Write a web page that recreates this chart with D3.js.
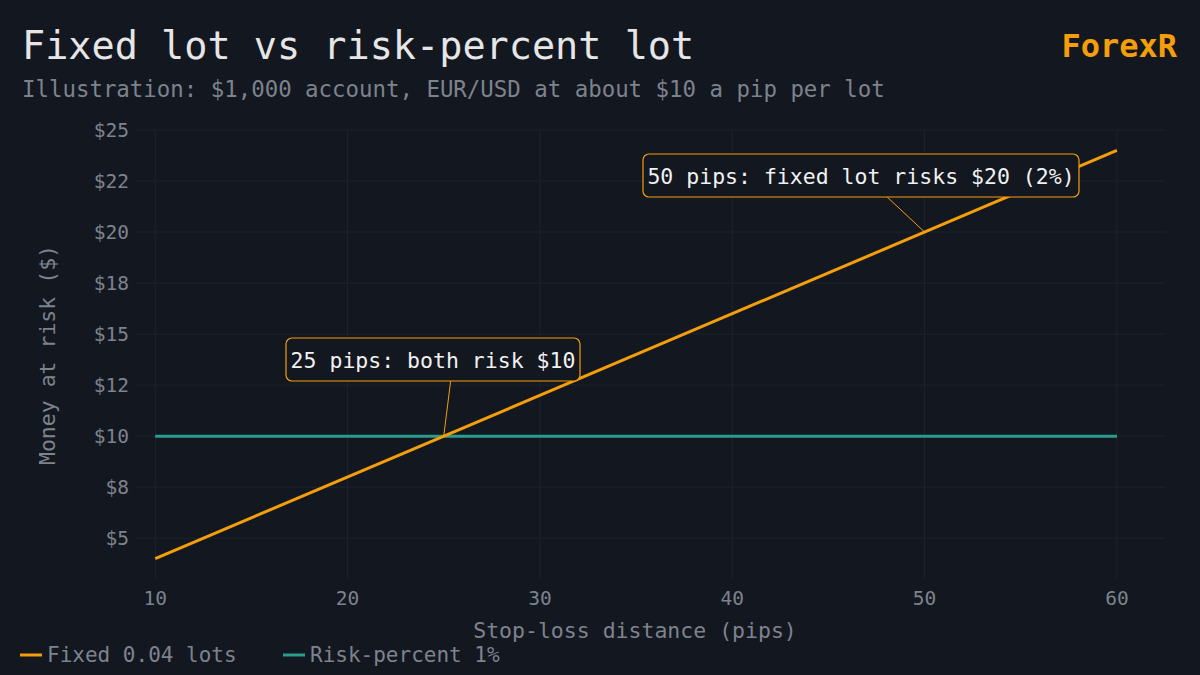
<!DOCTYPE html>
<html><head><meta charset="utf-8">
<script src="https://cdn.jsdelivr.net/npm/d3@7"></script>
<style>body{margin:0;background:#131720}svg{display:block}</style>
</head><body><svg id="c" width="1200" height="675"></svg>
<script>
const pips = [10, 60];
const fixedRisk = [4, 24];
const pctRisk = [10, 10];
const xTicks = [10, 20, 30, 40, 50, 60];
const yTicks = [5, 7.5, 10, 12.5, 15, 17.5, 20, 22.5, 25];
const yTickLabels = ["$5","$8","$10","$12","$15","$18","$20","$22","$25"];
const notes = [
  {text:"50 pips: fixed lot risks $20 (2%)", px:50, py:20, bx:643, by:154, bw:436},
  {text:"25 pips: both risk $10", px:25, py:10, bx:286, by:338, bw:294}
];
const font = "'DejaVu Sans Mono', monospace";
const orange = "#f59e0b", teal = "#2a9d8f", gray = "#7d838d";
const svg = d3.select("#c");
svg.append("rect").attr("width",1200).attr("height",675).attr("fill","#131720");
const x = d3.scaleLinear().domain([9, 62.5]).range([136, 1165]);
const y = d3.scaleLinear().domain([3, 25]).range([579, 130]);
const g = svg.append("g");
g.selectAll(".gy").data(yTicks).join("line").attr("x1",136).attr("x2",1165)
 .attr("y1",d=>y(d)).attr("y2",d=>y(d)).attr("stroke","#1e232d").attr("stroke-width",1);
g.selectAll(".gx").data(xTicks).join("line").attr("y1",130).attr("y2",579)
 .attr("x1",d=>x(d)).attr("x2",d=>x(d)).attr("stroke","#1e232d").attr("stroke-width",1);
g.selectAll(".ty").data(yTicks).join("text").attr("x",129).attr("y",d=>y(d)).attr("dy","0.35em")
 .attr("text-anchor","end").attr("fill",gray).attr("font-family",font).attr("font-size",19.5)
 .text((d,i)=>yTickLabels[i]);
g.selectAll(".tx").data(xTicks).join("text").attr("x",d=>x(d)).attr("y",605)
 .attr("text-anchor","middle").attr("fill",gray).attr("font-family",font).attr("font-size",19.5).text(d=>d);
svg.append("text").attr("x",635).attr("y",638).attr("text-anchor","middle").attr("fill",gray)
 .attr("font-family",font).attr("font-size",21.5).text("Stop-loss distance (pips)");
svg.append("text").attr("transform","translate(55,355) rotate(-90)").attr("text-anchor","middle").attr("fill",gray)
 .attr("font-family",font).attr("font-size",21.5).text("Money at risk ($)");
const line = d3.line().x(d=>x(d[0])).y(d=>y(d[1]));
svg.append("path").attr("d",line(pips.map((p,i)=>[p,pctRisk[i]]))).attr("stroke",teal).attr("stroke-width",3).attr("fill","none");
svg.append("path").attr("d",line(pips.map((p,i)=>[p,fixedRisk[i]]))).attr("stroke",orange).attr("stroke-width",3).attr("fill","none");
notes.forEach(n=>{
  svg.append("line").attr("x1",n.bx+n.bw*0.56).attr("y1",n.by+43).attr("x2",x(n.px)).attr("y2",y(n.py))
   .attr("stroke",orange).attr("stroke-width",1);
  svg.append("rect").attr("x",n.bx).attr("y",n.by).attr("width",n.bw).attr("height",43).attr("rx",6)
   .attr("fill","#131720").attr("stroke",orange).attr("stroke-width",1.2);
  svg.append("text").attr("x",n.bx+n.bw/2).attr("y",n.by+22).attr("dy","0.35em").attr("text-anchor","middle")
   .attr("fill","#f1f1f1").attr("font-family",font).attr("font-size",21.5).text(n.text);
});
svg.append("text").attr("x",22).attr("y",59).attr("fill","#e6e6e6").attr("font-family",font).attr("font-size",38.5).text("Fixed lot vs risk-percent lot");
svg.append("text").attr("x",1177).attr("y",57).attr("text-anchor","end").attr("fill",orange).attr("font-family",font).attr("font-size",32).attr("font-weight","bold").text("ForexR");
svg.append("text").attr("x",22).attr("y",97).attr("fill",gray).attr("font-family",font).attr("font-size",22.4).text("Illustration: $1,000 account, EUR/USD at about $10 a pip per lot");
const leg = [{c:orange,t:"Fixed 0.04 lots",x:20},{c:teal,t:"Risk-percent 1%",x:283}];
leg.forEach(l=>{
  svg.append("line").attr("x1",l.x).attr("x2",l.x+22).attr("y1",655).attr("y2",655).attr("stroke",l.c).attr("stroke-width",3);
  svg.append("text").attr("x",l.x+27).attr("y",655).attr("dy","0.35em").attr("fill",gray).attr("font-family",font).attr("font-size",21).text(l.t);
});
</script></body></html>
